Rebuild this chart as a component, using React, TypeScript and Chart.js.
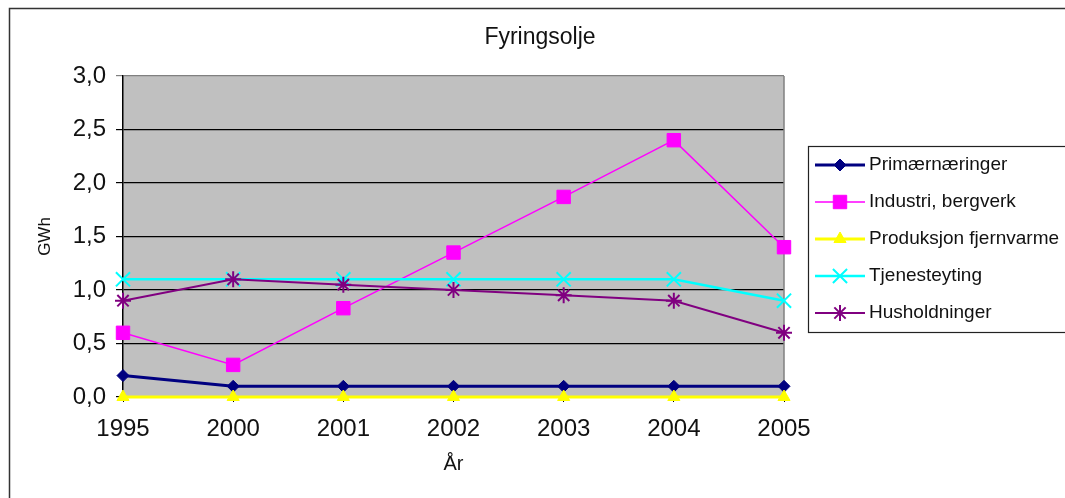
import React, { useEffect, useRef } from 'react';
import { Chart, registerables } from 'chart.js';
import { drawPoint } from 'chart.js/helpers';

Chart.register(...registerables);

const FONT = '"Liberation Sans", Arial, sans-serif';

const chartTitle = 'Fyringsolje';
const yAxisTitle = 'GWh';
const xAxisTitle = 'År';
const years = ['1995', '2000', '2001', '2002', '2003', '2004', '2005'];

const primaernaeringer = [0.2, 0.1, 0.1, 0.1, 0.1, 0.1, 0.1];
const industriBergverk = [0.6, 0.3, 0.83, 1.35, 1.87, 2.4, 1.4];
const produksjonFjernvarme = [0, 0, 0, 0, 0, 0, 0];
const tjenesteyting = [1.1, 1.1, 1.1, 1.1, 1.1, 1.1, 0.9];
const husholdninger = [0.9, 1.1, 1.05, 1.0, 0.95, 0.9, 0.6];

const seriesNames = [
  'Primærnæringer',
  'Industri, bergverk',
  'Produksjon fjernvarme',
  'Tjenesteyting',
  'Husholdninger',
];

const yMin = 0;
const yMax = 3;
const yStep = 0.5;

const decorPlugin = {
  id: 'decor',
  beforeDraw(chart: any) {
    const { ctx, chartArea: a } = chart;
    ctx.save();
    ctx.fillStyle = '#ffffff';
    ctx.fillRect(0, 0, chart.width, chart.height);
    ctx.fillStyle = '#C0C0C0';
    ctx.fillRect(a.left, a.top, a.right - a.left, a.bottom - a.top);
    // outer frame (left and top edges visible)
    ctx.strokeStyle = '#333333';
    ctx.lineWidth = 1.5;
    ctx.beginPath();
    ctx.moveTo(9.5, chart.height + 2);
    ctx.lineTo(9.5, 8.5);
    ctx.lineTo(chart.width + 2, 8.5);
    ctx.stroke();
    // title
    ctx.fillStyle = '#111111';
    ctx.font = '23px ' + FONT;
    ctx.textAlign = 'center';
    ctx.textBaseline = 'middle';
    ctx.fillText(chartTitle, 540, 38);
    ctx.restore();
  },
  beforeDatasetsDraw(chart: any) {
    const { ctx, chartArea: a } = chart;
    ctx.save();
    ctx.strokeStyle = '#808080';
    ctx.lineWidth = 1.5;
    ctx.beginPath();
    ctx.moveTo(a.right, a.top);
    ctx.lineTo(a.right, a.bottom);
    ctx.stroke();
    ctx.restore();
  },
  afterDraw(chart: any) {
    const { ctx } = chart;
    ctx.save();
    ctx.strokeStyle = '#222222';
    ctx.lineWidth = 1.2;
    ctx.strokeRect(808.5, 146.5, 320, 186);
    chart.data.datasets.forEach((ds: any, i: number) => {
      const y = 165 + i * 37;
      ctx.strokeStyle = ds.borderColor;
      ctx.lineWidth = ds.borderWidth;
      ctx.beginPath();
      ctx.moveTo(815, y);
      ctx.lineTo(865, y);
      ctx.stroke();
      ctx.fillStyle = ds.pointBackgroundColor;
      ctx.strokeStyle = ds.pointBorderColor;
      ctx.lineWidth = ds.pointBorderWidth;
      drawPoint(
        ctx,
        { pointStyle: ds.pointStyle, radius: ds.pointRadius, rotation: 0, borderWidth: ds.pointBorderWidth } as any,
        840,
        y
      );
      ctx.fillStyle = '#111111';
      ctx.font = '19px ' + FONT;
      ctx.textAlign = 'left';
      ctx.textBaseline = 'middle';
      ctx.fillText(ds.label, 869, y);
    });
    ctx.restore();
  },
};

function makeSet(label: string, data: number[], color: string, width: number, style: string, radius: number, pbw: number, order: number) {
  return {
    label,
    data,
    borderColor: color,
    backgroundColor: color,
    pointBackgroundColor: color,
    pointBorderColor: color,
    borderWidth: width,
    pointStyle: style,
    pointRadius: radius,
    pointHoverRadius: radius,
    pointBorderWidth: pbw,
    tension: 0,
    clip: false as any,
    order,
  };
}

export default function App() {
  const ref = useRef<HTMLCanvasElement>(null);
  useEffect(() => {
    Chart.defaults.font.family = FONT;
    const chart = new Chart(ref.current as HTMLCanvasElement, {
      type: 'line',
      data: {
        labels: years,
        datasets: [
          makeSet(seriesNames[0], primaernaeringer, '#000080', 3, 'rectRot', 6, 1, 5),
          makeSet(seriesNames[1], industriBergverk, '#FF00FF', 1.5, 'rect', 9.5, 1, 4),
          makeSet(seriesNames[2], produksjonFjernvarme, '#FFFF00', 3, 'triangle', 7, 1, 3),
          makeSet(seriesNames[3], tjenesteyting, '#00FFFF', 2.5, 'crossRot', 10, 2, 2),
          makeSet(seriesNames[4], husholdninger, '#800080', 2, 'star', 8, 2, 1),
        ] as any,
      },
      options: {
        responsive: false,
        animation: false,
        devicePixelRatio: 1,
        layout: { padding: { left: 10, right: 281, top: 76, bottom: 0 } },
        plugins: {
          legend: { display: false },
          title: { display: false },
          tooltip: { enabled: false },
        },
        scales: {
          x: {
            type: 'category',
            offset: false,
            grid: { display: true, drawOnChartArea: false, drawTicks: true, tickLength: 5, color: '#000000' },
            border: { display: true, color: '#000000', width: 1.5 },
            ticks: { font: { size: 24, family: FONT }, color: '#111111', padding: 13, maxRotation: 0, autoSkip: false },
            title: { display: true, text: xAxisTitle, font: { size: 20, family: FONT }, color: '#111111', padding: { top: 0, bottom: 22 } },
            afterFit: (s: any) => { s.height = 101; },
          },
          y: {
            min: yMin,
            max: yMax,
            ticks: {
              stepSize: yStep,
              font: { size: 24, family: FONT },
              color: '#111111',
              padding: 10,
              callback: (v: any) => Number(v).toFixed(1).replace('.', ','),
            },
            grid: {
              color: (c: any) => (c.tick && c.tick.value === yMax ? '#808080' : '#000000'),
              lineWidth: 1.2,
              tickLength: 7,
              drawTicks: true,
            },
            border: { display: true, color: '#000000', width: 1.5 },
            title: { display: true, text: yAxisTitle, font: { size: 17, family: FONT }, color: '#111111', padding: { top: 25, bottom: 0 } },
            afterFit: (s: any) => { s.width = 113; },
          },
        },
      } as any,
      plugins: [decorPlugin as any],
    });
    return () => chart.destroy();
  }, []);
  return (
    <div style={{ position: 'absolute', left: 0, top: 0, width: 1065, height: 498, background: '#fff' }}>
      <canvas ref={ref} width={1065} height={498} style={{ display: 'block' }} />
    </div>
  );
}
